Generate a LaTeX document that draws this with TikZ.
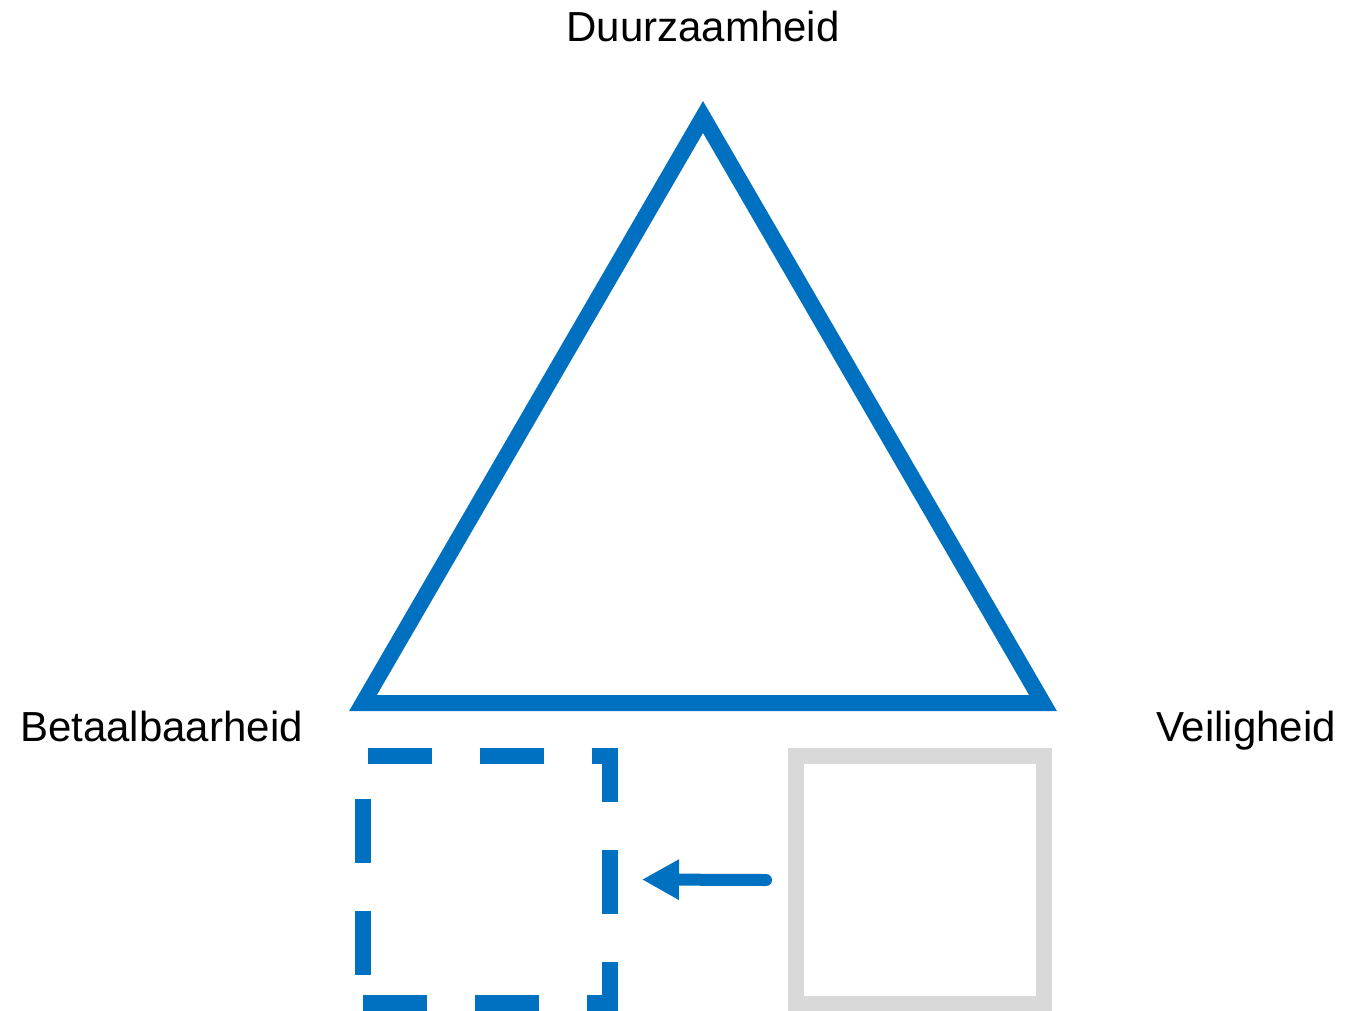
\documentclass[tikz,border=0pt]{standalone}
\usepackage{fontspec}
\setmainfont{Liberation Sans}
\usetikzlibrary{arrows.meta}
\definecolor{tblue}{HTML}{0070C0}
\definecolor{tgray}{HTML}{D9D9D9}
\tikzset{
  lbl/.style={inner sep=0pt, font=\fontsize{42}{50}\selectfont, text=black},
  tri/.style={draw=tblue, line width=16pt, line join=miter},
  graybox/.style={draw=tgray, line width=16pt, minimum width=248pt, minimum height=248pt, inner sep=0pt, outer sep=0pt},
  ghostbox/.style={draw=none, minimum width=247pt, minimum height=247pt, inner sep=0pt, outer sep=0pt},
  dashside/.style={draw=tblue, line width=16pt, line join=miter, line cap=butt, dash pattern=on 64pt off 48pt},
  conn/.style={draw=tblue, line width=12pt, line cap=round, -{Triangle[length=37pt,width=38pt]}}
}
\begin{document}
\begin{tikzpicture}[x=1pt,y=-1pt]
\useasboundingbox (0,0) rectangle (1346,1010);
% triangle
\coordinate (A) at (703,117);
\coordinate (B) at (363,703);
\coordinate (C) at (1043,703);
\draw[tri] (A) -- (B) -- (C) -- cycle;
% labels
\node[lbl, anchor=base] (duur) at (703,41) {Duurzaamheid};
\node[lbl, anchor=base west] (bet) at (20,741) {Betaalbaarheid};
\node[lbl, anchor=base east] (veil) at (1336,741) {Veiligheid};
% boxes
\node[ghostbox] (dbox) at (486.5,879.5) {};
\draw[dashside, dash phase=107pt] (dbox.north west) -- (dbox.north east) -- (dbox.south east) -- (dbox.south west);
\draw[dashside, dash phase=84pt] (dbox.south west) -- (dbox.north west);
\node[graybox] (gbox) at (920,880) {};
% arrow
\draw[conn] ([xshift=-30pt]gbox.west) -- ([xshift=32pt]dbox.east);
\end{tikzpicture}
\end{document}
